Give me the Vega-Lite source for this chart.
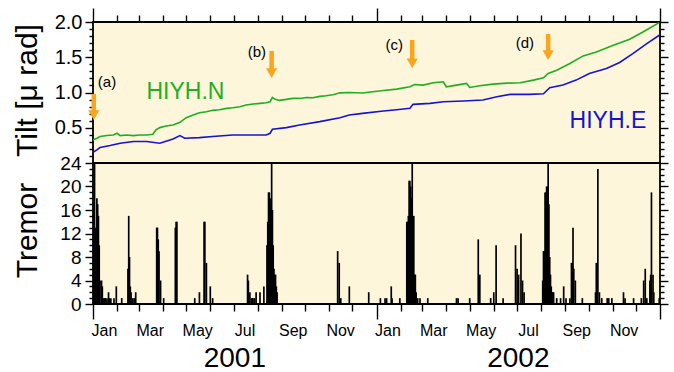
{
  "$schema": "https://vega.github.io/schema/vega-lite/v6.json",
  "autosize": {"type": "pad"},
  "padding": {"left": 11, "top": 6, "right": 5, "bottom": 5},
  "background": "white",
  "spacing": 0,
  "bounds": "flush",
  "config": {
    "font": "Liberation Sans",
    "view": {"stroke": "black", "strokeWidth": 1.8, "fill": "#fdf6da"},
    "axis": {"domain": false, "grid": false, "tickColor": "black", "tickWidth": 1.4, "labelColor": "black", "labelFont": "Liberation Sans", "titleFont": "Liberation Sans", "titleColor": "black", "labelOverlap": false, "labelFlush": false}
  },
  "datasets": {
    "tilt": [
      {"d": "2001/01/01", "v": 0.327, "s": "HIYH.N"},
      {"d": "2001/01/06", "v": 0.351, "s": "HIYH.N"},
      {"d": "2001/01/10", "v": 0.375, "s": "HIYH.N"},
      {"d": "2001/01/19", "v": 0.389, "s": "HIYH.N"},
      {"d": "2001/01/27", "v": 0.398, "s": "HIYH.N"},
      {"d": "2001/02/01", "v": 0.422, "s": "HIYH.N"},
      {"d": "2001/02/05", "v": 0.389, "s": "HIYH.N"},
      {"d": "2001/02/13", "v": 0.398, "s": "HIYH.N"},
      {"d": "2001/02/22", "v": 0.389, "s": "HIYH.N"},
      {"d": "2001/03/02", "v": 0.398, "s": "HIYH.N"},
      {"d": "2001/03/11", "v": 0.398, "s": "HIYH.N"},
      {"d": "2001/03/19", "v": 0.408, "s": "HIYH.N"},
      {"d": "2001/03/23", "v": 0.469, "s": "HIYH.N"},
      {"d": "2001/03/28", "v": 0.502, "s": "HIYH.N"},
      {"d": "2001/04/05", "v": 0.525, "s": "HIYH.N"},
      {"d": "2001/04/14", "v": 0.539, "s": "HIYH.N"},
      {"d": "2001/04/23", "v": 0.577, "s": "HIYH.N"},
      {"d": "2001/05/01", "v": 0.643, "s": "HIYH.N"},
      {"d": "2001/05/10", "v": 0.681, "s": "HIYH.N"},
      {"d": "2001/05/18", "v": 0.714, "s": "HIYH.N"},
      {"d": "2001/05/27", "v": 0.728, "s": "HIYH.N"},
      {"d": "2001/06/04", "v": 0.747, "s": "HIYH.N"},
      {"d": "2001/06/13", "v": 0.756, "s": "HIYH.N"},
      {"d": "2001/06/22", "v": 0.775, "s": "HIYH.N"},
      {"d": "2001/06/30", "v": 0.784, "s": "HIYH.N"},
      {"d": "2001/07/09", "v": 0.799, "s": "HIYH.N"},
      {"d": "2001/07/17", "v": 0.822, "s": "HIYH.N"},
      {"d": "2001/07/26", "v": 0.836, "s": "HIYH.N"},
      {"d": "2001/08/04", "v": 0.846, "s": "HIYH.N"},
      {"d": "2001/08/12", "v": 0.855, "s": "HIYH.N"},
      {"d": "2001/08/17", "v": 0.869, "s": "HIYH.N"},
      {"d": "2001/08/20", "v": 0.930, "s": "HIYH.N"},
      {"d": "2001/08/23", "v": 0.907, "s": "HIYH.N"},
      {"d": "2001/08/29", "v": 0.888, "s": "HIYH.N"},
      {"d": "2001/09/07", "v": 0.902, "s": "HIYH.N"},
      {"d": "2001/09/15", "v": 0.916, "s": "HIYH.N"},
      {"d": "2001/09/24", "v": 0.916, "s": "HIYH.N"},
      {"d": "2001/10/03", "v": 0.930, "s": "HIYH.N"},
      {"d": "2001/10/11", "v": 0.926, "s": "HIYH.N"},
      {"d": "2001/10/20", "v": 0.945, "s": "HIYH.N"},
      {"d": "2001/10/28", "v": 0.954, "s": "HIYH.N"},
      {"d": "2001/11/06", "v": 0.968, "s": "HIYH.N"},
      {"d": "2001/11/15", "v": 0.995, "s": "HIYH.N"},
      {"d": "2001/11/27", "v": 1.001, "s": "HIYH.N"},
      {"d": "2001/12/14", "v": 0.992, "s": "HIYH.N"},
      {"d": "2001/12/27", "v": 1.011, "s": "HIYH.N"},
      {"d": "2002/01/10", "v": 1.029, "s": "HIYH.N"},
      {"d": "2002/01/27", "v": 1.048, "s": "HIYH.N"},
      {"d": "2002/02/13", "v": 1.081, "s": "HIYH.N"},
      {"d": "2002/02/19", "v": 1.114, "s": "HIYH.N"},
      {"d": "2002/03/02", "v": 1.105, "s": "HIYH.N"},
      {"d": "2002/03/15", "v": 1.138, "s": "HIYH.N"},
      {"d": "2002/03/28", "v": 1.152, "s": "HIYH.N"},
      {"d": "2002/04/01", "v": 1.081, "s": "HIYH.N"},
      {"d": "2002/04/14", "v": 1.105, "s": "HIYH.N"},
      {"d": "2002/04/27", "v": 1.128, "s": "HIYH.N"},
      {"d": "2002/05/01", "v": 1.072, "s": "HIYH.N"},
      {"d": "2002/05/14", "v": 1.095, "s": "HIYH.N"},
      {"d": "2002/05/31", "v": 1.119, "s": "HIYH.N"},
      {"d": "2002/06/18", "v": 1.133, "s": "HIYH.N"},
      {"d": "2002/07/05", "v": 1.138, "s": "HIYH.N"},
      {"d": "2002/07/22", "v": 1.176, "s": "HIYH.N"},
      {"d": "2002/08/04", "v": 1.208, "s": "HIYH.N"},
      {"d": "2002/08/10", "v": 1.270, "s": "HIYH.N"},
      {"d": "2002/08/21", "v": 1.317, "s": "HIYH.N"},
      {"d": "2002/09/07", "v": 1.411, "s": "HIYH.N"},
      {"d": "2002/09/24", "v": 1.519, "s": "HIYH.N"},
      {"d": "2002/10/11", "v": 1.576, "s": "HIYH.N"},
      {"d": "2002/11/02", "v": 1.670, "s": "HIYH.N"},
      {"d": "2002/11/23", "v": 1.755, "s": "HIYH.N"},
      {"d": "2002/12/10", "v": 1.859, "s": "HIYH.N"},
      {"d": "2002/12/31", "v": 1.991, "s": "HIYH.N"},
      {"d": "2001/01/01", "v": 0.153, "s": "HIYH.E"},
      {"d": "2001/01/06", "v": 0.186, "s": "HIYH.E"},
      {"d": "2001/01/10", "v": 0.219, "s": "HIYH.E"},
      {"d": "2001/01/23", "v": 0.247, "s": "HIYH.E"},
      {"d": "2001/02/05", "v": 0.280, "s": "HIYH.E"},
      {"d": "2001/02/22", "v": 0.304, "s": "HIYH.E"},
      {"d": "2001/03/11", "v": 0.304, "s": "HIYH.E"},
      {"d": "2001/03/28", "v": 0.280, "s": "HIYH.E"},
      {"d": "2001/04/14", "v": 0.342, "s": "HIYH.E"},
      {"d": "2001/04/23", "v": 0.389, "s": "HIYH.E"},
      {"d": "2001/04/29", "v": 0.351, "s": "HIYH.E"},
      {"d": "2001/05/18", "v": 0.360, "s": "HIYH.E"},
      {"d": "2001/06/04", "v": 0.375, "s": "HIYH.E"},
      {"d": "2001/06/30", "v": 0.398, "s": "HIYH.E"},
      {"d": "2001/07/26", "v": 0.398, "s": "HIYH.E"},
      {"d": "2001/08/12", "v": 0.398, "s": "HIYH.E"},
      {"d": "2001/08/17", "v": 0.422, "s": "HIYH.E"},
      {"d": "2001/08/20", "v": 0.478, "s": "HIYH.E"},
      {"d": "2001/09/07", "v": 0.502, "s": "HIYH.E"},
      {"d": "2001/09/24", "v": 0.539, "s": "HIYH.E"},
      {"d": "2001/10/20", "v": 0.587, "s": "HIYH.E"},
      {"d": "2001/11/15", "v": 0.643, "s": "HIYH.E"},
      {"d": "2001/11/27", "v": 0.681, "s": "HIYH.E"},
      {"d": "2001/12/14", "v": 0.704, "s": "HIYH.E"},
      {"d": "2002/01/10", "v": 0.737, "s": "HIYH.E"},
      {"d": "2002/01/27", "v": 0.756, "s": "HIYH.E"},
      {"d": "2002/02/13", "v": 0.775, "s": "HIYH.E"},
      {"d": "2002/02/17", "v": 0.832, "s": "HIYH.E"},
      {"d": "2002/03/11", "v": 0.846, "s": "HIYH.E"},
      {"d": "2002/03/28", "v": 0.869, "s": "HIYH.E"},
      {"d": "2002/04/23", "v": 0.879, "s": "HIYH.E"},
      {"d": "2002/05/18", "v": 0.893, "s": "HIYH.E"},
      {"d": "2002/06/05", "v": 0.940, "s": "HIYH.E"},
      {"d": "2002/06/22", "v": 0.973, "s": "HIYH.E"},
      {"d": "2002/07/17", "v": 0.973, "s": "HIYH.E"},
      {"d": "2002/08/04", "v": 0.982, "s": "HIYH.E"},
      {"d": "2002/08/12", "v": 1.067, "s": "HIYH.E"},
      {"d": "2002/08/29", "v": 1.105, "s": "HIYH.E"},
      {"d": "2002/09/15", "v": 1.176, "s": "HIYH.E"},
      {"d": "2002/10/02", "v": 1.270, "s": "HIYH.E"},
      {"d": "2002/10/24", "v": 1.340, "s": "HIYH.E"},
      {"d": "2002/11/10", "v": 1.425, "s": "HIYH.E"},
      {"d": "2002/11/27", "v": 1.552, "s": "HIYH.E"},
      {"d": "2002/12/15", "v": 1.694, "s": "HIYH.E"},
      {"d": "2002/12/31", "v": 1.812, "s": "HIYH.E"}
    ],
    "arrows": [
      {"d": "2001/01/02", "top": 0.98, "head": 0.68, "ld": "2001/01/19", "ly": 1.15, "label": "(a)"},
      {"d": "2001/08/19", "top": 1.59, "head": 1.275, "ld": "2001/07/31", "ly": 1.58, "label": "(b)"},
      {"d": "2002/02/16", "top": 1.745, "head": 1.415, "ld": "2002/01/24", "ly": 1.68, "label": "(c)"},
      {"d": "2002/08/10", "top": 1.83, "head": 1.53, "ld": "2002/07/11", "ly": 1.70, "label": "(d)"}
    ],
    "stations": [
      {"d": "2001/04/30", "v": 1.01, "s": "HIYH.N"},
      {"d": "2002/10/26", "v": 0.60, "s": "HIYH.E"}
    ],
    "tremor": [
      {"d": "2001/01/01", "n": 16}, {"d": "2001/01/02", "n": 6}, {"d": "2001/01/03", "n": 24}, {"d": "2001/01/04", "n": 13},
      {"d": "2001/01/06", "n": 18}, {"d": "2001/01/07", "n": 17}, {"d": "2001/01/08", "n": 15}, {"d": "2001/01/09", "n": 10},
      {"d": "2001/01/10", "n": 4}, {"d": "2001/01/12", "n": 4}, {"d": "2001/01/13", "n": 3}, {"d": "2001/01/15", "n": 1},
      {"d": "2001/01/16", "n": 1}, {"d": "2001/01/17", "n": 1}, {"d": "2001/01/19", "n": 1}, {"d": "2001/01/21", "n": 2},
      {"d": "2001/01/22", "n": 1}, {"d": "2001/01/24", "n": 1}, {"d": "2001/01/28", "n": 1}, {"d": "2001/01/31", "n": 3},
      {"d": "2001/02/07", "n": 1}, {"d": "2001/02/15", "n": 6}, {"d": "2001/02/16", "n": 15}, {"d": "2001/02/17", "n": 8},
      {"d": "2001/02/18", "n": 3}, {"d": "2001/02/19", "n": 2}, {"d": "2001/02/21", "n": 1}, {"d": "2001/02/23", "n": 1},
      {"d": "2001/02/25", "n": 2}, {"d": "2001/03/24", "n": 13}, {"d": "2001/03/25", "n": 13}, {"d": "2001/03/26", "n": 11},
      {"d": "2001/03/27", "n": 9}, {"d": "2001/03/29", "n": 4}, {"d": "2001/04/02", "n": 1}, {"d": "2001/04/17", "n": 13},
      {"d": "2001/04/18", "n": 14}, {"d": "2001/04/19", "n": 14}, {"d": "2001/05/12", "n": 1}, {"d": "2001/05/18", "n": 2},
      {"d": "2001/05/24", "n": 14}, {"d": "2001/05/25", "n": 14}, {"d": "2001/05/27", "n": 7}, {"d": "2001/06/01", "n": 3},
      {"d": "2001/06/04", "n": 1}, {"d": "2001/07/19", "n": 5}, {"d": "2001/07/20", "n": 4}, {"d": "2001/07/22", "n": 2},
      {"d": "2001/07/24", "n": 1}, {"d": "2001/07/25", "n": 1}, {"d": "2001/07/26", "n": 1}, {"d": "2001/07/28", "n": 1},
      {"d": "2001/07/30", "n": 2}, {"d": "2001/08/04", "n": 2}, {"d": "2001/08/09", "n": 3}, {"d": "2001/08/13", "n": 10},
      {"d": "2001/08/14", "n": 14}, {"d": "2001/08/15", "n": 19}, {"d": "2001/08/16", "n": 19}, {"d": "2001/08/17", "n": 18},
      {"d": "2001/08/18", "n": 17}, {"d": "2001/08/19", "n": 24}, {"d": "2001/08/20", "n": 16}, {"d": "2001/08/21", "n": 10},
      {"d": "2001/08/22", "n": 6}, {"d": "2001/08/23", "n": 5}, {"d": "2001/08/24", "n": 5}, {"d": "2001/08/25", "n": 3},
      {"d": "2001/08/26", "n": 2}, {"d": "2001/11/12", "n": 9}, {"d": "2001/11/14", "n": 7}, {"d": "2001/11/16", "n": 1},
      {"d": "2001/11/27", "n": 3}, {"d": "2001/12/22", "n": 2},
      {"d": "2002/01/06", "n": 1}, {"d": "2002/01/12", "n": 1}, {"d": "2002/01/14", "n": 1}, {"d": "2002/01/20", "n": 3},
      {"d": "2002/01/21", "n": 1}, {"d": "2002/01/31", "n": 1}, {"d": "2002/02/09", "n": 14}, {"d": "2002/02/10", "n": 14},
      {"d": "2002/02/11", "n": 15}, {"d": "2002/02/12", "n": 21}, {"d": "2002/02/13", "n": 21}, {"d": "2002/02/14", "n": 20},
      {"d": "2002/02/15", "n": 18}, {"d": "2002/02/16", "n": 24}, {"d": "2002/02/17", "n": 15}, {"d": "2002/02/18", "n": 15},
      {"d": "2002/02/19", "n": 5}, {"d": "2002/02/20", "n": 5}, {"d": "2002/02/21", "n": 2}, {"d": "2002/02/23", "n": 1},
      {"d": "2002/02/26", "n": 1}, {"d": "2002/03/08", "n": 1}, {"d": "2002/04/14", "n": 1}, {"d": "2002/04/16", "n": 1},
      {"d": "2002/05/01", "n": 1}, {"d": "2002/05/12", "n": 11}, {"d": "2002/05/14", "n": 5}, {"d": "2002/05/28", "n": 1},
      {"d": "2002/06/01", "n": 2}, {"d": "2002/06/04", "n": 10}, {"d": "2002/06/13", "n": 1}, {"d": "2002/06/29", "n": 10},
      {"d": "2002/07/01", "n": 6}, {"d": "2002/07/03", "n": 5}, {"d": "2002/07/06", "n": 12}, {"d": "2002/07/08", "n": 4},
      {"d": "2002/07/10", "n": 2}, {"d": "2002/08/03", "n": 4}, {"d": "2002/08/04", "n": 9}, {"d": "2002/08/05", "n": 9},
      {"d": "2002/08/06", "n": 19}, {"d": "2002/08/07", "n": 19}, {"d": "2002/08/08", "n": 20}, {"d": "2002/08/09", "n": 20},
      {"d": "2002/08/10", "n": 24}, {"d": "2002/08/11", "n": 17}, {"d": "2002/08/12", "n": 8}, {"d": "2002/08/13", "n": 5},
      {"d": "2002/08/14", "n": 3}, {"d": "2002/08/15", "n": 2}, {"d": "2002/08/16", "n": 2}, {"d": "2002/08/17", "n": 2},
      {"d": "2002/08/21", "n": 1}, {"d": "2002/08/26", "n": 1}, {"d": "2002/08/30", "n": 3}, {"d": "2002/09/02", "n": 1},
      {"d": "2002/09/07", "n": 1}, {"d": "2002/09/09", "n": 7}, {"d": "2002/09/10", "n": 7}, {"d": "2002/09/11", "n": 13},
      {"d": "2002/09/12", "n": 6}, {"d": "2002/09/14", "n": 4}, {"d": "2002/09/23", "n": 1}, {"d": "2002/10/10", "n": 2},
      {"d": "2002/10/11", "n": 7}, {"d": "2002/10/13", "n": 23}, {"d": "2002/10/15", "n": 2}, {"d": "2002/10/18", "n": 1},
      {"d": "2002/10/25", "n": 1}, {"d": "2002/10/27", "n": 1}, {"d": "2002/10/31", "n": 1}, {"d": "2002/11/15", "n": 2},
      {"d": "2002/11/17", "n": 1}, {"d": "2002/11/28", "n": 1}, {"d": "2002/12/08", "n": 1}, {"d": "2002/12/11", "n": 4},
      {"d": "2002/12/13", "n": 6}, {"d": "2002/12/15", "n": 1}, {"d": "2002/12/19", "n": 4}, {"d": "2002/12/20", "n": 5},
      {"d": "2002/12/21", "n": 19}, {"d": "2002/12/23", "n": 5}, {"d": "2002/12/24", "n": 2}, {"d": "2002/12/31", "n": 1}
    ]
  },
  "vconcat": [
    {
      "width": 567,
      "height": 141,
      "resolve": {"axis": {"x": "independent", "y": "independent"}},
      "layer": [
        {
          "data": {"name": "tilt"},
          "mark": {"type": "line", "strokeWidth": 1.6, "clip": true},
          "encoding": {
            "x": {"field": "d", "type": "temporal",
              "scale": {"domain": [{"year": 2001, "month": 1, "date": 1}, {"year": 2003, "month": 1, "date": 1}], "nice": false},
              "axis": {"orient": "top", "title": null, "labels": false, "tickCount": {"interval": "month", "step": 1},
                "tickSize": {"condition": {"test": "month(datum.value)==0", "value": 14}, "value": 7}}},
            "y": {"field": "v", "type": "quantitative",
              "scale": {"domain": [0, 2], "nice": false},
              "axis": {"orient": "left",
                "values": [0.1,0.2,0.3,0.4,0.5,0.6,0.7,0.8,0.9,1.0,1.1,1.2,1.3,1.4,1.5,1.6,1.7,1.8,1.9,2.0],
                "labelExpr": "(abs(datum.value*2 - round(datum.value*2)) < 0.001) ? format(datum.value, '.1f') : ''",
                "tickSize": {"condition": {"test": "abs(datum.value*2 - round(datum.value*2)) < 0.001", "value": 8}, "value": 4},
                "labelPadding": {"condition": {"test": "abs(datum.value*2 - round(datum.value*2)) < 0.001", "value": 3}, "value": 7},
                "labelFontSize": 20,
                "title": "Tilt [μ rad]", "titleFontSize": 30, "titleFontWeight": "normal",
                "titleAngle": -90, "titleX": -57, "titleY": 68, "titleAlign": "center", "titleBaseline": "alphabetic"}},
            "color": {"field": "s", "type": "nominal", "legend": null,
              "scale": {"domain": ["HIYH.N", "HIYH.E"], "range": ["#1fae1f", "#1414d2"]}},
            "detail": {"field": "s"}
          }
        },
        {
          "data": {"name": "arrows"},
          "mark": {"type": "rule", "color": "#f9a51e", "strokeWidth": 4.5},
          "encoding": {
            "x": {"field": "d", "type": "temporal",
              "axis": {"orient": "bottom", "title": null, "labels": false, "tickSize": 4,
                "values": [{"year": 2001, "month": 1, "date": 2}, {"year": 2001, "month": 8, "date": 19}, {"year": 2002, "month": 2, "date": 16}, {"year": 2002, "month": 8, "date": 10}]}},
            "y": {"field": "top", "type": "quantitative",
              "axis": {"orient": "right", "title": null, "labels": false,
                "values": [0.1,0.2,0.3,0.4,0.5,0.6,0.7,0.8,0.9,1.0,1.1,1.2,1.3,1.4,1.5,1.6,1.7,1.8,1.9,2.0],
                "tickSize": {"condition": {"test": "abs(datum.value*2 - round(datum.value*2)) < 0.001", "value": 8}, "value": 4}}},
            "y2": {"field": "head"}
          }
        },
        {
          "data": {"name": "arrows"},
          "mark": {"type": "point", "shape": "triangle-down", "filled": true, "color": "#f9a51e", "size": 125, "opacity": 1},
          "encoding": {
            "x": {"field": "d", "type": "temporal", "axis": null},
            "y": {"field": "head", "type": "quantitative", "axis": null}
          }
        },
        {
          "data": {"name": "arrows"},
          "mark": {"type": "text", "fontSize": 15, "color": "black", "align": "center", "baseline": "middle"},
          "encoding": {
            "x": {"field": "ld", "type": "temporal", "axis": null},
            "y": {"field": "ly", "type": "quantitative", "axis": null},
            "text": {"field": "label"}
          }
        },
        {
          "data": {"name": "stations"},
          "mark": {"type": "text", "fontSize": 23, "align": "center", "baseline": "middle"},
          "encoding": {
            "x": {"field": "d", "type": "temporal", "axis": null},
            "y": {"field": "v", "type": "quantitative", "axis": null},
            "text": {"field": "s"},
            "color": {"field": "s", "type": "nominal", "legend": null,
              "scale": {"domain": ["HIYH.N", "HIYH.E"], "range": ["#1fae1f", "#1414d2"]}}
          }
        }
      ]
    },
    {
      "width": 567,
      "height": 141,
      "resolve": {"axis": {"x": "independent", "y": "independent"}},
      "layer": [
        {
          "data": {"name": "tremor"},
          "mark": {"type": "rule", "color": "black", "strokeWidth": 1.7, "clip": true},
          "encoding": {
            "x": {"field": "d", "type": "temporal",
              "scale": {"domain": [{"year": 2001, "month": 1, "date": 1}, {"year": 2003, "month": 1, "date": 1}], "nice": false},
              "axis": {"orient": "bottom", "title": null, "tickCount": {"interval": "month", "step": 1},
                "labelExpr": "(month(datum.value) % 2 == 0 && year(datum.value) < 2003) ? timeFormat(datum.value, '%b') : ''",
                "labelOffset": 11, "labelFontSize": 16,
                "labelPadding": {"condition": {"test": "month(datum.value)==0", "value": 3}, "value": 11},
                "tickSize": {"condition": {"test": "month(datum.value)==0", "value": 15}, "value": 7}}},
            "y": {"field": "n", "type": "quantitative",
              "scale": {"domain": [0, 24], "nice": false},
              "axis": {"orient": "left",
                "values": [0,1,2,3,4,5,6,7,8,9,10,11,12,13,14,15,16,17,18,19,20,21,22,23,24],
                "labelExpr": "datum.value % 4 == 0 ? datum.label : ''",
                "tickSize": {"condition": {"test": "datum.value % 4 == 0", "value": 8}, "value": 4},
                "labelPadding": {"condition": {"test": "datum.value % 4 == 0", "value": 4}, "value": 8},
                "labelFontSize": 19,
                "title": "Tremor", "titleFontSize": 30, "titleFontWeight": "normal",
                "titleAngle": -90, "titleX": -57, "titleY": 67, "titleAlign": "center", "titleBaseline": "alphabetic"}},
            "y2": {"datum": 0}
          }
        },
        {
          "data": {"name": "tremor"},
          "mark": {"type": "rule", "opacity": 0},
          "encoding": {
            "x": {"field": "d", "type": "temporal",
              "axis": {"orient": "bottom", "title": null, "ticks": false, "format": "%Y", "labelFontSize": 28, "labelPadding": 40,
                "values": [{"year": 2001, "month": 7, "date": 2}, {"year": 2002, "month": 7, "date": 2}]}},
            "y": {"field": "n", "type": "quantitative",
              "axis": {"orient": "right", "title": null, "labels": false,
                "values": [0,1,2,3,4,5,6,7,8,9,10,11,12,13,14,15,16,17,18,19,20,21,22,23,24],
                "tickSize": {"condition": {"test": "datum.value % 4 == 0", "value": 8}, "value": 4}}},
            "y2": {"datum": 0}
          }
        }
      ]
    }
  ]
}
